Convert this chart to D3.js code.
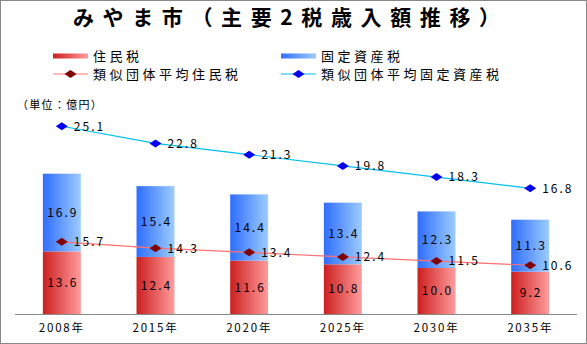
<!DOCTYPE html>
<html><head><meta charset="utf-8">
<script src="https://cdn.jsdelivr.net/npm/d3@7"></script>
<style>
body{margin:0;background:#fff;}
text{font-family:"Noto Sans CJK JP","DejaVu Sans",sans-serif;}
</style></head>
<body>
<svg id="c" width="587" height="344"></svg>
<script>
const categories = ["2008年","2015年","2020年","2025年","2030年","2035年"];
const residentTax = [13.6,12.4,11.6,10.8,10.0,9.2];
const propertyTax = [16.9,15.4,14.4,13.4,12.3,11.3];
const avgResidentTax = [15.7,14.3,13.4,12.4,11.5,10.6];
const avgPropertyTax = [25.1,22.8,21.3,19.8,18.3,16.8];
const legendLabels = ["住民税","固定資産税","類似団体平均住民税","類似団体平均固定資産税"];

const svg = d3.select("#c");
svg.append("rect").attr("x",0.5).attr("y",0.5).attr("width",586).attr("height",343)
  .attr("fill","#fff").attr("stroke","#888");

const defs = svg.append("defs");
function grad(id,c1,c2){
  const g = defs.append("linearGradient").attr("id",id).attr("x1","0").attr("x2","1").attr("y1","0").attr("y2","0");
  g.append("stop").attr("offset","0").attr("stop-color",c1);
  g.append("stop").attr("offset","1").attr("stop-color",c2);
}
grad("gr","#cc1f1f","#ff9c9c");
grad("gb","#2f6dff","#9cccff");

const x = d3.scaleBand().domain(categories).range([15,577]).paddingInner(0.595).paddingOuter(0.2975);
const y1 = d3.scaleLinear().domain([0,40]).range([314,130]);
const y2 = d3.scaleLinear().domain([0,25]).range([314,127]);

// title
svg.append("text").attr("x",73).attr("y",25)
  .attr("font-size",21).attr("font-weight","bold")
  .attr("textLength",427).attr("lengthAdjust","spacing")
  .text("みやま市（主要2税歳入額推移）");

// legend
const lg = svg.append("g").attr("font-size",13).attr("letter-spacing",3.5);
const lx = [53,281], ly = [56,74];
[[0,0,"url(#gr)"],[1,0,"url(#gb)"]].forEach(([c,r,f],i)=>{
  lg.append("rect").attr("x",lx[c]).attr("y",ly[r]-2.5).attr("width",35).attr("height",5).attr("fill",f);
  lg.append("text").attr("x",lx[c]+40).attr("y",ly[r]).attr("dy","0.36em").text(legendLabels[i]);
});
[[0,"#ff7070","#800000",2],[1,"#00c0f0","#0000ee",3]].forEach(([c,lc,mc,i])=>{
  lg.append("line").attr("x1",lx[c]).attr("x2",lx[c]+35).attr("y1",ly[1]).attr("y2",ly[1]).attr("stroke",lc).attr("stroke-width",1.2);
  lg.append("path").attr("d","M-6,0L0,-4L6,0L0,4Z").attr("transform",`translate(${lx[c]+17.5},${ly[1]})`).attr("fill",mc);
  lg.append("text").attr("x",lx[c]+40).attr("y",ly[1]).attr("dy","0.36em").text(legendLabels[i]);
});

svg.append("text").attr("x",17).attr("y",105).attr("dy","0.36em").attr("font-size",11).attr("letter-spacing",1.3)
  .text("（単位：億円）");

// bars
const bw = x.bandwidth();
svg.append("g").selectAll("rect").data(categories).join("rect")
  .attr("x",d=>x(d)).attr("width",bw)
  .attr("y",(d,i)=>y1(residentTax[i])).attr("height",(d,i)=>y1(0)-y1(residentTax[i]))
  .attr("fill","url(#gr)");
svg.append("g").selectAll("rect").data(categories).join("rect")
  .attr("x",d=>x(d)).attr("width",bw)
  .attr("y",(d,i)=>y1(residentTax[i]+propertyTax[i])).attr("height",(d,i)=>y1(residentTax[i])-y1(residentTax[i]+propertyTax[i]))
  .attr("fill","url(#gb)");

// axis
const xAxis = svg.append("g").attr("transform","translate(0,314)")
  .call(d3.axisBottom(x).tickSize(0).tickPadding(10));
xAxis.select(".domain").attr("stroke","#888").attr("d","M15,0.5H577");
xAxis.selectAll("text").attr("font-size",11.5).attr("letter-spacing",1.8).attr("fill","#000")
  .attr("font-family",'"Noto Sans CJK JP",sans-serif');

// lines
const cx = d=>x(d)+bw/2;
function series(vals,ys,lc,mc){
  const pts = categories.map((c,i)=>[cx(c),ys(vals[i])]);
  svg.append("path").attr("d",d3.line()(pts)).attr("fill","none").attr("stroke",lc).attr("stroke-width",1.2);
  svg.append("g").selectAll("path").data(pts).join("path")
    .attr("d","M-6,0L0,-4L6,0L0,4Z").attr("transform",p=>`translate(${p[0]},${p[1]})`).attr("fill",mc);
  svg.append("g").selectAll("text").data(pts).join("text")
    .attr("x",p=>p[0]+12).attr("y",p=>p[1]).attr("dy","0.36em")
    .attr("font-size",12).attr("letter-spacing",2).text((p,i)=>vals[i].toFixed(1));
}
series(avgResidentTax,y1,"#ff7070","#800000");
series(avgPropertyTax,y2,"#00c0f0","#0000ee");

// bar labels
const lab = svg.append("g").attr("font-size",12).attr("letter-spacing",2).attr("text-anchor","middle");
categories.forEach((c,i)=>{
  lab.append("text").attr("x",cx(c)+1).attr("y",(y1(0)+y1(residentTax[i]))/2).attr("dy","0.36em").text(residentTax[i].toFixed(1));
  lab.append("text").attr("x",cx(c)+1).attr("y",(y1(residentTax[i])+y1(residentTax[i]+propertyTax[i]))/2).attr("dy","0.36em").text(propertyTax[i].toFixed(1));
});
</script>
</body></html>
